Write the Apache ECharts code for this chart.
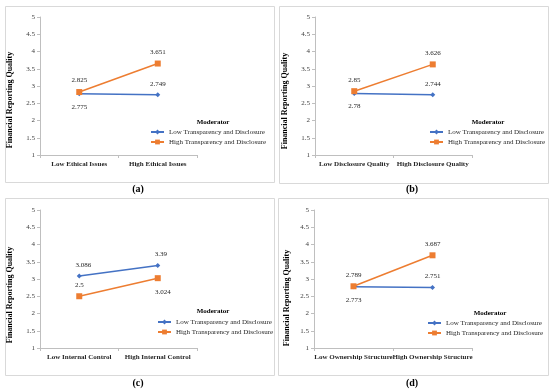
<!DOCTYPE html>
<html><head><meta charset="utf-8">
<script src="https://cdn.jsdelivr.net/npm/echarts@6/dist/echarts.min.js"></script>
<style>html,body{margin:0;padding:0;background:#fff}#c{width:550px;height:389px}</style>
</head><body><div id="c"></div>
<script>
// ---- data ----
const seriesNames = ['Low Transparency and Disclosure', 'High Transparency and Disclosure'];
const yAxisTitle = 'Financial Reporting Quality';
const legendTitle = 'Moderator';
const panelLabels = ['(a)', '(b)', '(c)', '(d)'];
const yMin = 1, yMax = 5, yStep = 0.5;

const catsA = ['Low Ethical Issues', 'High Ethical Issues'];
const lowA = [2.775, 2.749];
const highA = [2.825, 3.651];

const catsB = ['Low Disclosure Quality', 'High Disclosure Quality'];
const lowB = [2.78, 2.744];
const highB = [2.85, 3.626];

const catsC = ['Low Internal Control', 'High Internal Control'];
const lowC = [3.086, 3.39];
const highC = [2.5, 3.024];

const catsD = ['Low Ownership Structure', 'High Ownership Structure'];
const lowD = [2.773, 2.751];
const highD = [2.789, 3.687];

// ---- layout / style ----
const FONT = 'Liberation Serif';
const TXT = '#262626';
const TICK = '#404040';
const AX = '#bfbfbf';
const BLUE = '#4472C4', ORANGE = '#ED7D31';

const panels = [
  {cats: catsA, low: lowA, high: highA, grid: {left: 40, top: 17, width: 157, height: 138},
   box: [3, 4, 269, 176], lab: [138, 189], yt: [10, 100], mod: [213, 122], leg: [150, 128],
   lowPos: ['bottom', 'top'], highPos: ['top', 'top'], lowOff: [[0,0],[0,0]], highOff: [[0,0],[0,0]]},
  {cats: catsB, low: lowB, high: highB, grid: {left: 315, top: 17, width: 157, height: 138},
   box: [277, 4, 269, 177], lab: [412, 189], yt: [285, 101], mod: [488, 122], leg: [429, 128],
   lowPos: ['bottom', 'top'], highPos: ['top', 'top'], lowOff: [[0,0],[0,0]], highOff: [[0,0],[0,0]]},
  {cats: catsC, low: lowC, high: highC, grid: {left: 40, top: 210, width: 157, height: 138},
   box: [3, 196, 269, 177], lab: [138, 383], yt: [10, 295], mod: [213, 311], leg: [157, 318],
   lowPos: ['top', 'top'], highPos: ['top', 'bottom'], lowOff: [[4,0],[3,0]], highOff: [[0,0],[5,0]]},
  {cats: catsD, low: lowD, high: highD, grid: {left: 314, top: 210, width: 158, height: 138},
   box: [276, 196, 270, 177], lab: [412, 383], yt: [287, 298], mod: [490, 313], leg: [427, 319],
   lowPos: ['bottom', 'top'], highPos: ['top', 'top'], lowOff: [[0,0],[0,0]], highOff: [[0,0],[0,0]]}
];

const grid = [], xAxis = [], yAxis = [], series = [], legend = [], graphic = [];

function mkData(vals, pos, off) {
  return vals.map((v, i) => ({
    value: v,
    label: {position: pos[i], distance: pos[i] === 'top' ? 5 : 7, offset: off[i]}
  }));
}

panels.forEach((p, i) => {
  grid.push(p.grid);
  xAxis.push({
    type: 'category', gridIndex: i, data: p.cats, boundaryGap: true,
    axisLine: {lineStyle: {color: AX, width: 1}},
    axisTick: {show: true, length: 3, lineStyle: {color: AX}},
    axisLabel: {interval: 0, fontFamily: FONT, fontSize: 7, fontWeight: 'bold', color: TXT, margin: 6},
    splitLine: {show: false}
  });
  yAxis.push({
    type: 'value', gridIndex: i, min: yMin, max: yMax, interval: yStep,
    axisLine: {show: true, lineStyle: {color: AX, width: 1}},
    axisTick: {show: true, length: 3, lineStyle: {color: AX}},
    axisLabel: {fontFamily: FONT, fontSize: 7, color: TICK, margin: 5},
    splitLine: {show: false}
  });
  const common = {
    type: 'line', xAxisIndex: i, yAxisIndex: i, lineStyle: {width: 1.5},
    label: {show: true, fontFamily: FONT, fontSize: 7, color: TXT},
    animation: false
  };
  series.push(Object.assign({}, common, {
    name: seriesNames[0], color: BLUE, symbol: 'diamond', symbolSize: 5,
    itemStyle: {color: BLUE}, data: mkData(p.low, p.lowPos, p.lowOff)
  }));
  series.push(Object.assign({}, common, {
    name: seriesNames[1], color: ORANGE, symbol: 'rect', symbolSize: 6,
    itemStyle: {color: ORANGE}, data: mkData(p.high, p.highPos, p.highOff)
  }));
  legend.push({
    orient: 'vertical', left: p.leg[0], top: p.leg[1], padding: 0, itemGap: 2,
    itemWidth: 13, itemHeight: 6, data: seriesNames,
    textStyle: {fontFamily: FONT, fontSize: 7, color: TXT, lineHeight: 8},
    selectedMode: false
  });
  graphic.push({
    type: 'rect', left: p.box[0], top: p.box[1], silent: true, z: -1,
    shape: {width: p.box[2], height: p.box[3]},
    style: {fill: 'none', stroke: '#d9d9d9', lineWidth: 1}
  });
  graphic.push({
    type: 'text', x: p.lab[0], y: p.lab[1], silent: true,
    style: {text: panelLabels[i], font: 'bold 10px ' + FONT, fill: '#000', align: 'center', verticalAlign: 'middle'}
  });
  graphic.push({
    type: 'text', x: p.yt[0], y: p.yt[1], rotation: Math.PI / 2, silent: true,
    style: {text: yAxisTitle, font: 'bold 8px ' + FONT, fill: '#000', align: 'center', verticalAlign: 'middle'}
  });
  graphic.push({
    type: 'text', x: p.mod[0], y: p.mod[1], silent: true,
    style: {text: legendTitle, font: 'bold 7px ' + FONT, fill: '#000', align: 'center', verticalAlign: 'middle'}
  });
});

const chart = echarts.init(document.getElementById('c'), null, {renderer: 'canvas'});
chart.setOption({animation: false, backgroundColor: '#fff', grid, xAxis, yAxis, series, legend, graphic});
</script>
</body></html>
